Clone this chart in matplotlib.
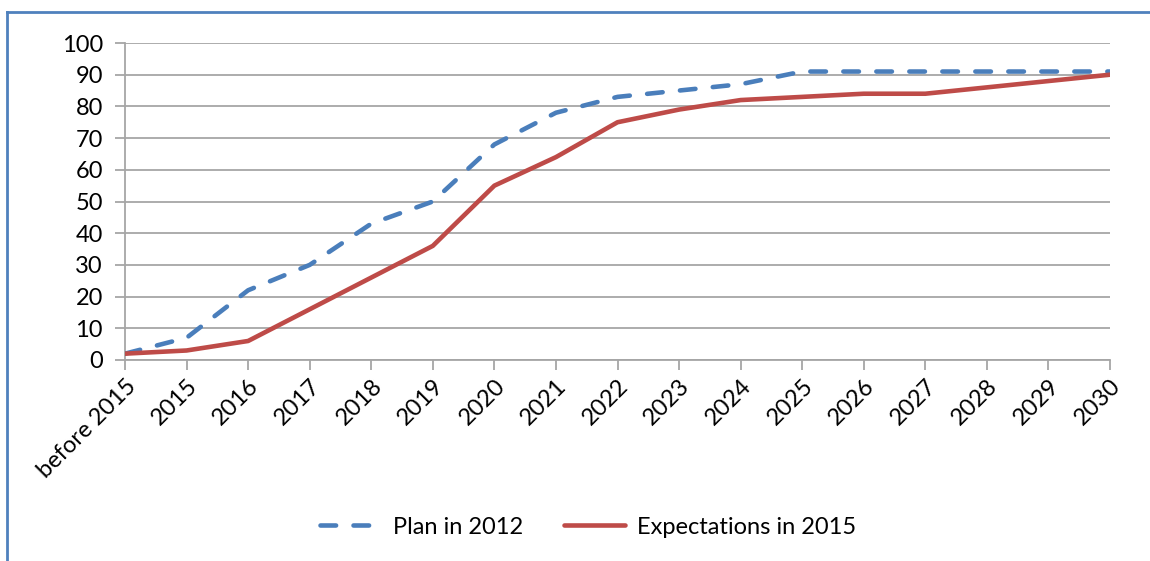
"""Line chart: planned vs expected share, before 2015 to 2030."""

import matplotlib

matplotlib.use("Agg")
from matplotlib import pyplot as plt
from matplotlib.lines import Line2D

CATEGORIES = ["before 2015"] + [str(year) for year in range(2015, 2031)]
PLAN_2012 = [2, 7, 22, 30, 43, 50, 68, 78, 83, 85, 87, 91, 91, 91, 91, 91, 91]
EXPECTED_2015 = [2, 3, 6, 16, 26, 36, 55, 64, 75, 79, 82, 83, 84, 84, 86, 88, 90]
Y_TICKS = list(range(0, 101, 10))

BLUE = "#4A7EBB"
RED = "#BE4B48"
GRID = "#A6A6A6"

plt.rcParams["font.family"] = ["Lato", "DejaVu Sans"]

W, H = 1150, 561
figure = plt.figure(figsize=(W / 100, H / 100), dpi=100)
axis = figure.add_axes([125 / W, 1 - 360 / H, (1110 - 125) / W, (360 - 43) / H])

x = list(range(len(CATEGORIES)))
axis.plot(x, PLAN_2012, color=BLUE, linewidth=3.3, dashes=(3.4, 3.8),
          dash_capstyle="round", label="Plan in 2012", zorder=3)
axis.plot(x, EXPECTED_2015, color=RED, linewidth=3.3, solid_capstyle="round",
          label="Expectations in 2015", zorder=4)

axis.set_xlim(0, len(CATEGORIES) - 1)
axis.set_ylim(0, 100)
axis.set_yticks(Y_TICKS)
axis.set_xticks(x)
axis.set_xticklabels(CATEGORIES, rotation=45, ha="right", rotation_mode="anchor")
axis.grid(axis="y", color=GRID, linewidth=1.3)
axis.set_axisbelow(True)

for side in ("top", "right"):
    axis.spines[side].set_visible(False)
for side in ("left", "bottom"):
    axis.spines[side].set_color(GRID)
    axis.spines[side].set_linewidth(1.3)

axis.tick_params(axis="both", colors=GRID, width=1.3, length=7, labelcolor="black",
                 labelsize=17)
axis.tick_params(axis="y", pad=9)
axis.tick_params(axis="x", pad=4)

legend = figure.legend(
    loc="center",
    bbox_to_anchor=(588 / W, 1 - 527 / H),
    ncol=2,
    frameon=False,
    fontsize=17,
    handlelength=2.6,
    handletextpad=0.5,
    columnspacing=1.7,
)

# thin blue frame along the top and left edges
figure.add_artist(Line2D([7 / W, 1.01], [1 - 12 / H, 1 - 12 / H],
                         transform=figure.transFigure, color="#4F81BD", linewidth=2))
figure.add_artist(Line2D([7 / W, 7 / W], [1 - 12 / H, -0.01],
                         transform=figure.transFigure, color="#4F81BD", linewidth=2))

figure.savefig("out.png", dpi=100)
plt.close(figure)
